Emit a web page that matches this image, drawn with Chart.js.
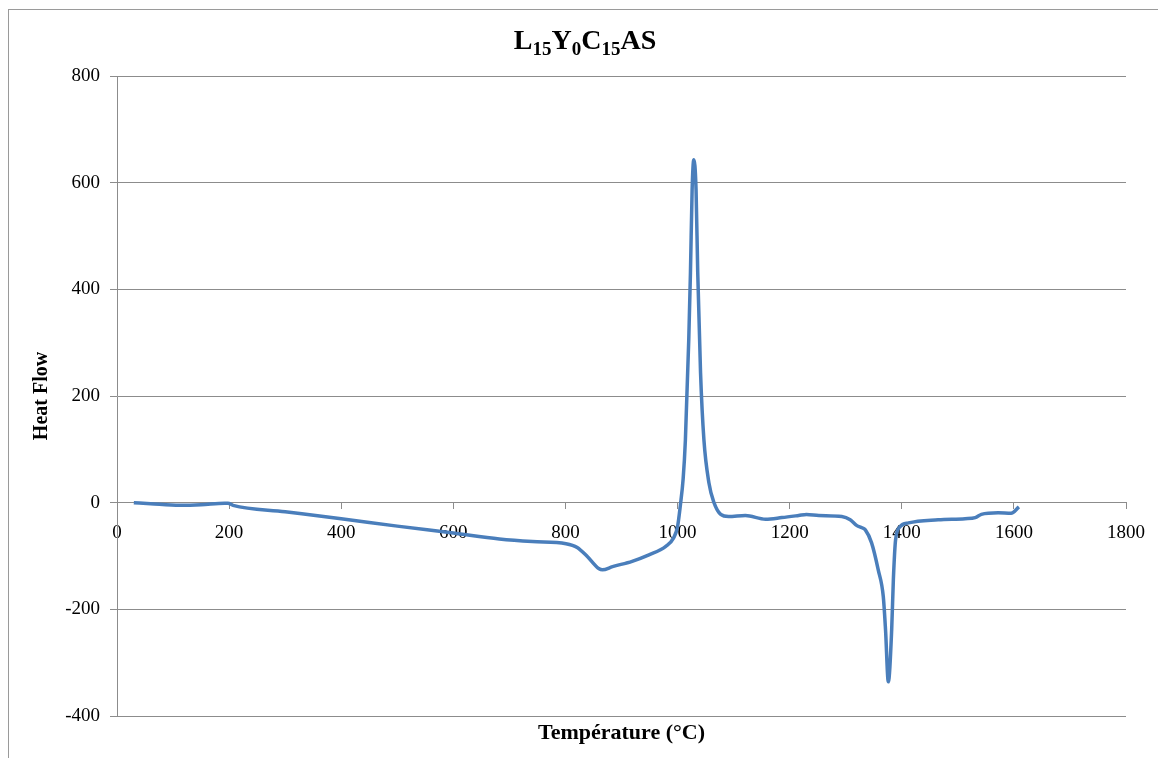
<!DOCTYPE html>
<html>
<head>
<meta charset="utf-8">
<script src="https://cdn.jsdelivr.net/npm/chart.js@4.4.0/dist/chart.umd.min.js"></script>
<style>
  body { margin: 0; background: #fff; }
  #wrap { width: 1158px; height: 758px; }
</style>
</head>
<body>
<div id="wrap"><canvas id="dscChart" width="1158" height="758"></canvas></div>
<script>
// DSC curve
const temperature = [30, 60, 112, 150, 192, 198, 207, 300, 400, 500, 600, 682, 741, 801, 821, 839, 860, 866, 884, 919, 949, 979, 993, 1000, 1005, 1010, 1014, 1020, 1023, 1026, 1029, 1033, 1036, 1041, 1047, 1056, 1065, 1077, 1091, 1121, 1157, 1186, 1216, 1230, 1252, 1293, 1308, 1320, 1329, 1335, 1346, 1358, 1367, 1371, 1376, 1382, 1385, 1389, 1397, 1412, 1465, 1513, 1531, 1542, 1572, 1595, 1609];
const heatFlow = [0, -2, -5, -4, -1, -1, -5, -17, -30, -44, -57, -68, -73, -77, -84, -101, -124, -126, -120, -110, -98, -82, -66, -45, -5, 45, 118, 306, 431, 587, 643, 587, 431, 244, 118, 37, 0, -22, -26, -24, -31, -28, -24, -22, -24, -26, -32, -43, -47, -51, -75, -126, -176, -238, -336, -238, -144, -69, -45, -38, -32, -30, -28, -22, -19, -20, -8];

const xTicks = [0, 200, 400, 600, 800, 1000, 1200, 1400, 1600, 1800];
const yTicks = [-400, -200, 0, 200, 400, 600, 800];

const gridColor = '#8c8c8c';
const serif = '"Liberation Serif", "Times New Roman", serif';

const points = temperature.map((t, i) => ({ x: t, y: heatFlow[i] }));

// title with subscripts + axis titles + outer frame
const decorations = {
    id: 'decorations',
    afterDraw(chart) {
        const c = chart.ctx;
        const area = chart.chartArea;
        c.save();

        c.strokeStyle = '#9a9a9a';
        c.lineWidth = 1;
        c.strokeRect(8.5, 9.5, 1200, 800);

        // title L15Y0C15AS
        const parts = [['L', 0], ['15', 1], ['Y', 0], ['0', 1], ['C', 0], ['15', 1], ['AS', 0]];
        const big = 'bold 28px ' + serif;
        const small = 'bold 19px ' + serif;
        let total = 0;
        parts.forEach(p => { c.font = p[1] ? small : big; total += c.measureText(p[0]).width; });
        let x = 585 - total / 2;
        c.fillStyle = '#000';
        c.textBaseline = 'alphabetic';
        c.textAlign = 'left';
        parts.forEach(p => {
            c.font = p[1] ? small : big;
            c.fillText(p[0], x, p[1] ? 55 : 49);
            x += c.measureText(p[0]).width;
        });

        // x title
        c.font = 'bold 22px ' + serif;
        c.textAlign = 'center';
        c.textBaseline = 'middle';
        c.fillText('Température (°C)', (area.left + area.right) / 2, 733);

        // y title
        c.font = 'bold 20px ' + serif;
        c.translate(42, (area.top + area.bottom) / 2);
        c.rotate(-Math.PI / 2);
        c.fillText('Heat Flow', 0, 0);
        c.restore();
    }
};

const ctx = document.getElementById('dscChart').getContext('2d');
const dscChart = new Chart(ctx, {
    type: 'line',
    data: {
        datasets: [{
            label: 'Heat Flow',
            data: points,
            borderColor: '#4a7ebb',
            borderWidth: 3.5,
            pointRadius: 0,
            cubicInterpolationMode: 'monotone',
            fill: false
        }]
    },
    options: {
        responsive: false,
        animation: false,
        layout: { padding: { left: 0, right: 30, top: 76, bottom: 42 } },
        plugins: { legend: { display: false }, title: { display: false }, tooltip: { enabled: false } },
        scales: {
            x: {
                type: 'linear',
                position: { y: 0 },
                min: 0,
                max: 1800,
                afterBuildTicks: s => { s.ticks = xTicks.map(v => ({ value: v })); },
                grid: { display: true, drawOnChartArea: false, drawTicks: true, tickLength: 6, color: gridColor },
                border: { display: true, color: gridColor },
                ticks: { color: '#000', font: { family: serif, size: 19 }, padding: 13, maxRotation: 0, callback: v => String(v) }
            },
            y: {
                type: 'linear',
                min: -400,
                max: 800,
                afterBuildTicks: s => { s.ticks = yTicks.map(v => ({ value: v })); },
                afterFit: s => { s.width = 117; },
                grid: { color: gridColor, tickLength: 7 },
                border: { display: true, color: gridColor },
                ticks: { color: '#000', font: { family: serif, size: 19 }, padding: 10, callback: v => String(v) }
            }
        }
    },
    plugins: [decorations]
});
</script>
</body>
</html>
